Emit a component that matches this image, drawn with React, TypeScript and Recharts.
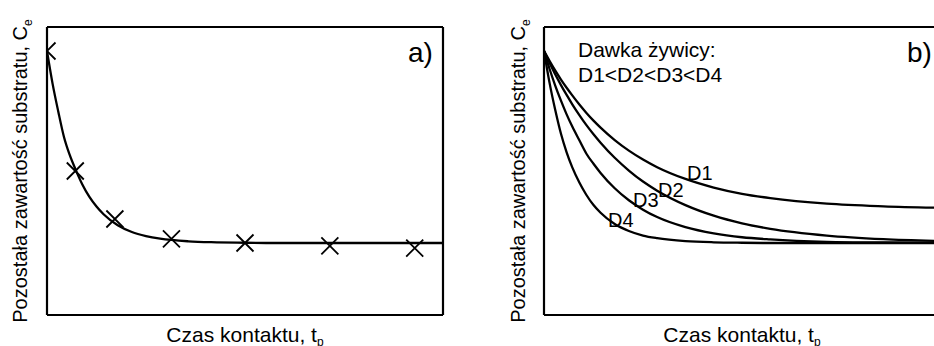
import { ComposedChart, LineChart, Line, Scatter, XAxis, YAxis } from "recharts";

// contact time (arbitrary units, 7 divisions on the x axis)
const contactTime = [0, 0.1, 0.2, 0.3, 0.4, 0.5, 0.625, 0.75, 0.875, 1, 1.25, 1.5, 1.75, 2, 2.5, 3, 3.5, 4, 5, 6, 7];

// panel a) fitted curve + measured points
const fitA = [11, 9.62, 8.47, 7.42, 6.68, 6.09, 5.44, 4.92, 4.52, 4.2, 3.74, 3.46, 3.29, 3.18, 3.07, 3.03, 3.01, 3, 3, 3, 3];
const measTime = [0, 0.5, 1.2, 2.2, 3.5, 5, 6.5];
const measCe = [11, 6.0, 4.0, 3.17, 3.0, 2.88, 2.79];

// panel b) resin dose curves
const doseD1 = [11, 10.58, 10.18, 9.81, 9.47, 9.15, 8.77, 8.42, 8.1, 7.81, 7.29, 6.85, 6.48, 6.16, 5.67, 5.31, 5.05, 4.87, 4.64, 4.53, 4.47];
const doseD2 = [11, 10.5, 10.02, 9.58, 9.17, 8.78, 8.33, 7.91, 7.53, 7.18, 6.55, 6.02, 5.56, 5.18, 4.58, 4.14, 3.82, 3.59, 3.31, 3.16, 3.08];
const doseD3 = [11, 10.24, 9.55, 8.93, 8.36, 7.85, 7.28, 6.72, 6.3, 5.92, 5.28, 4.78, 4.39, 4.08, 3.66, 3.4, 3.24, 3.15, 3.05, 3.02, 3.01];
const doseD4 = [11, 9.65, 8.53, 7.55, 6.78, 6.15, 5.52, 5.0, 4.58, 4.26, 3.79, 3.5, 3.31, 3.2, 3.08, 3.03, 3.01, 3, 3, 3, 3];

const timeTicks = [0, 1, 2, 3, 4, 5, 6, 7];
const ceTicks = [0, 1, 2, 3, 4, 5, 6, 7, 8, 9, 10, 11, 12];

const FONT = "'Liberation Sans', Arial, sans-serif";

const fitRows = contactTime.map((t, i) => ({ t, v: fitA[i] }));
const pointRows = measTime.map((t, i) => ({ t, c: measCe[i] }));
const doseRows = contactTime.map((t, i) => ({ t, d1: doseD1[i], d2: doseD2[i], d3: doseD3[i], d4: doseD4[i] }));

const axisLine = { stroke: "#000", strokeWidth: 2.2 };
const tickLine = { stroke: "#000", strokeWidth: 1 };

const frameAxes = () => [
  <XAxis key="xb" xAxisId="b" dataKey="t" type="number" domain={[0, 7]} ticks={timeTicks} allowDataOverflow
    height={10} tick={false} tickSize={-3} axisLine={axisLine} tickLine={tickLine} />,
  <XAxis key="xt" xAxisId="top" orientation="top" dataKey="t" type="number" domain={[0, 7]} ticks={timeTicks}
    height={10} tick={false} tickSize={-3} axisLine={axisLine} tickLine={tickLine} />,
  <YAxis key="yl" yAxisId="l" type="number" domain={[0, 12]} ticks={ceTicks} allowDataOverflow
    width={10} tick={false} tickSize={-3} axisLine={axisLine} tickLine={tickLine} />,
  <YAxis key="yr" yAxisId="right" orientation="right" type="number" domain={[0, 12]} ticks={ceTicks}
    width={10} tick={false} tickSize={-3} axisLine={axisLine} tickLine={tickLine} />,
];

const Cross = (props: any) => {
  const { cx, cy } = props;
  const s = 8.5;
  return (
    <path d={`M${cx - s},${cy - s}L${cx + s},${cy + s}M${cx - s},${cy + s}L${cx + s},${cy - s}`}
      stroke="#000" strokeWidth={1.8} fill="none" />
  );
};

const curve = (key: string, data: any[]) => (
  <Line key={key} xAxisId="b" yAxisId="l" data={data} dataKey={key} type="monotone" stroke="#000"
    strokeWidth={2.3} dot={false} activeDot={false} isAnimationActive={false} />
);

const YTitle = ({ x }: { x: number }) => (
  <text transform={`translate(${x},171) rotate(-90)`} textAnchor="middle" fontSize={20} fill="#000">
    Pozostała zawartość substratu, C<tspan fontSize={12} dy={5}>e</tspan>
  </text>
);

const XTitle = ({ x }: { x: number }) => (
  <text x={x} y={342} textAnchor="middle" fontSize={21} fill="#000">
    Czas kontaktu, t<tspan fontSize={12} dy={4}>p</tspan>
  </text>
);

export default function App() {
  return (
    <div style={{ position: "absolute", left: 0, top: 0, width: 934, height: 346, overflow: "hidden", background: "#fff", fontFamily: FONT }}>
      <div style={{ position: "absolute", left: 0, top: 0 }}>
        <ComposedChart width={467} height={346} margin={{ top: 17, right: 14, bottom: 21, left: 37 }}>
          {frameAxes()}
          <Line xAxisId="b" yAxisId="l" data={fitRows} dataKey="v" type="monotone" stroke="#000"
            strokeWidth={2.3} dot={false} activeDot={false} isAnimationActive={false} />
          <Scatter xAxisId="b" yAxisId="l" data={pointRows} dataKey="c" shape={<Cross />} isAnimationActive={false} />
        </ComposedChart>
      </div>
      <div style={{ position: "absolute", left: 467, top: 0 }}>
        <LineChart width={497} height={346} margin={{ top: 17, right: 14, bottom: 21, left: 67 }}>
          {frameAxes()}
          {curve("d1", doseRows)}
          {curve("d2", doseRows)}
          {curve("d3", doseRows)}
          {curve("d4", doseRows)}
        </LineChart>
      </div>
      <svg width={934} height={346} style={{ position: "absolute", left: 0, top: 0, pointerEvents: "none", fontFamily: FONT }}>
        <YTitle x={27} />
        <XTitle x={245} />
        <YTitle x={525} />
        <XTitle x={742} />
        <text x={408} y={62} fontSize={28}>a)</text>
        <text x={907} y={62} fontSize={28}>b)</text>
        <text x={578} y={57} fontSize={21}>Dawka żywicy:</text>
        <text x={578} y={82} fontSize={21}>D1&lt;D2&lt;D3&lt;D4</text>
        <text x={687} y={180} fontSize={20}>D1</text>
        <text x={658} y={197} fontSize={20}>D2</text>
        <text x={633} y={207} fontSize={20}>D3</text>
        <text x={608} y={227} fontSize={20}>D4</text>
      </svg>
    </div>
  );
}
